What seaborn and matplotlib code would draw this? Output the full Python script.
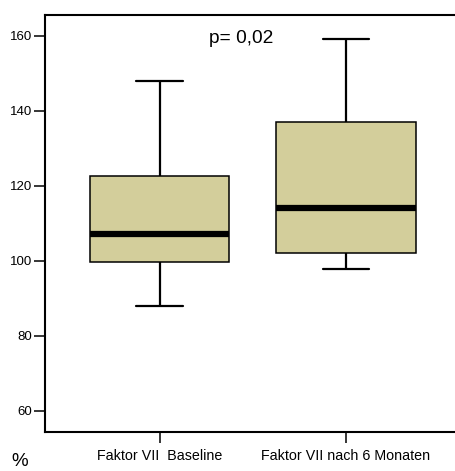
import matplotlib
matplotlib.use("Agg")
import matplotlib.pyplot as plt
import seaborn as sns
import pandas as pd

# five-number summaries (min, Q1, median, Q3, max)
categories = ["Faktor VII  Baseline", "Faktor VII nach 6 Monaten"]
baseline = [88.0, 99.6, 107.2, 122.6, 148.1]
nach_6_monaten = [97.8, 102.2, 114.1, 137.1, 159.1]
y_ticks = [60, 80, 100, 120, 140, 160]
p_text = "p= 0,02"

sns.set_style("white")
plt.rcParams["font.family"] = ["Liberation Sans", "DejaVu Sans"]
plt.rcParams["text.color"] = "black"
plt.rcParams["xtick.color"] = "black"
plt.rcParams["ytick.color"] = "black"
plt.rcParams["xtick.labelcolor"] = "black"
plt.rcParams["ytick.labelcolor"] = "black"

df = pd.DataFrame({
    "gruppe": [categories[0]] * len(baseline) + [categories[1]] * len(nach_6_monaten),
    "wert": baseline + nach_6_monaten,
})

fig = plt.figure(figsize=(4.55, 4.71), dpi=100)
ax = fig.add_axes([45 / 455, 39 / 471, 410 / 455, 417 / 471])

sns.boxplot(
    data=df, x="gruppe", y="wert", order=categories, ax=ax,
    color="#d3ce9b", width=0.75, whis=(0, 100), saturation=1,
    linecolor="black", linewidth=1.1,
    medianprops={"linewidth": 4.5, "color": "black"},
    whiskerprops={"linewidth": 1.6},
    capprops={"linewidth": 1.6},
    capwidths=0.25,
)

ax.set_xlim(-0.615, 1.586)
ax.set_ylim(54.3, 165.6)
ax.set_yticks(y_ticks)
ax.set_xlabel("")
ax.set_ylabel("")

for side in ["top", "bottom", "left"]:
    ax.spines[side].set_visible(True)
    ax.spines[side].set_linewidth(1.5)
    ax.spines[side].set_color("black")
ax.spines["right"].set_visible(False)

ax.tick_params(axis="y", left=True, length=8, width=1.1, pad=1.5, labelsize=9.5)
ax.tick_params(axis="x", bottom=True, length=8, width=1.1, pad=4, labelsize=10.3)

ax.text(0.44, 159.2, p_text, fontsize=13.8, ha="center", va="center")
fig.text(20 / 455, 1 / 471, "%", fontsize=13.5, ha="center", va="bottom")

fig.savefig("out.png", dpi=100)
